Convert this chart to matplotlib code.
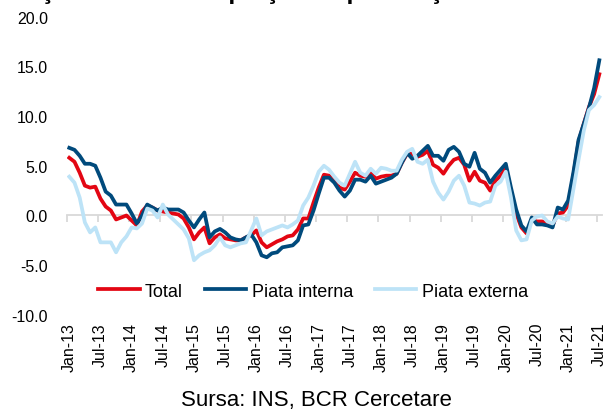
import numpy as np
import matplotlib
matplotlib.use("Agg")
import matplotlib.pyplot as plt
from matplotlib.ticker import FormatStrFormatter

plt.rcParams['font.family'] = ['Liberation Sans', 'DejaVu Sans']

# monthly y/y change, Jan-13 .. Jul-21
tick_labels = ['Jan-13', 'Jul-13', 'Jan-14', 'Jul-14', 'Jan-15', 'Jul-15',
               'Jan-16', 'Jul-16', 'Jan-17', 'Jul-17', 'Jan-18', 'Jul-18',
               'Jan-19', 'Jul-19', 'Jan-20', 'Jul-20', 'Jan-21', 'Jul-21']

total = [5.8, 5.4, 4.3, 3.0, 2.8, 2.9, 1.7, 0.9, 0.5, -0.4, -0.2, 0.0,
         -0.5, -1.0, 0.4, 1.0, 0.8, 0.5, 0.4, 0.3, 0.2, 0.1, -0.3, -1.2,
         -2.4, -1.7, -1.2, -2.8, -2.2, -1.9, -2.3, -2.4, -2.5, -2.5, -2.2, -2.0,
         -1.5, -2.7, -3.2, -2.9, -2.6, -2.4, -2.1, -2.0, -1.4, -0.3, -0.3, 1.3,
         2.8, 4.1, 4.0, 3.5, 2.8, 2.6, 3.4, 4.3, 4.0, 3.9, 4.3, 3.7,
         3.9, 4.0, 4.0, 4.2, 5.3, 6.2, 6.2, 5.9, 6.1, 6.5, 5.1, 4.8,
         4.2, 5.0, 5.6, 5.8, 5.1, 3.5, 4.4, 3.5, 3.3, 2.5, 3.5, 4.0,
         4.8, 2.3, 0.2, -1.2, -1.8, -0.4, -0.6, -0.6, -0.8, -1.0, 0.2, 0.3,
         1.0, 4.0, 7.4, 9.2, 10.9, 12.2, 14.2]

interna = [6.8, 6.6, 6.0, 5.2, 5.2, 5.0, 3.8, 2.4, 2.0, 1.1, 1.1, 1.1,
           0.2, -0.8, 0.0, 1.1, 0.8, 0.5, 0.8, 0.6, 0.6, 0.6, 0.3, -0.5,
           -1.2, -0.4, 0.3, -2.2, -1.6, -1.35, -1.7, -2.2, -2.4, -2.5, -2.2, -1.9,
           -2.7, -4.0, -4.2, -3.8, -3.7, -3.2, -3.1, -3.0, -2.5, -1.0, -0.9, 0.5,
           2.2, 3.8, 3.8, 3.3, 2.5, 1.9, 2.5, 3.6, 3.6, 3.4, 4.0, 3.2,
           3.4, 3.6, 3.8, 4.2, 5.3, 6.3, 5.7, 6.0, 6.5, 7.0, 6.0, 6.0,
           5.5, 6.6, 6.9, 6.4, 5.2, 4.9, 6.3, 4.7, 4.3, 3.3, 4.0, 4.6,
           5.2, 2.8, 0.6, -1.0, -1.6, -0.2, -0.9, -0.9, -1.0, -1.2, 0.8, 0.6,
           1.5, 4.3, 7.6, 9.2, 10.8, 12.8, 15.6]

externa = [3.9, 3.3, 1.8, -0.7, -1.7, -1.2, -2.7, -2.7, -2.7, -3.7, -2.7, -2.1,
           -1.2, -1.3, -0.8, 0.7, 0.5, -0.2, 1.1, 0.1, -0.4, -0.9, -1.4, -2.3,
           -4.5, -4.0, -3.7, -3.5, -3.0, -2.2, -3.0, -3.2, -3.0, -2.8, -2.7, -1.5,
           -0.3, -2.0, -1.6, -1.4, -1.2, -1.0, -1.2, -0.9, -0.5, 1.0, 1.8, 3.0,
           4.4, 5.0, 4.6, 3.9, 3.3, 3.0, 4.2, 5.4, 4.3, 4.0, 4.7, 4.2,
           4.8, 4.7, 4.5, 4.5, 5.6, 6.4, 6.7, 5.4, 5.2, 5.6, 3.4, 2.3,
           1.6, 2.4, 3.5, 4.0, 3.0, 1.3, 1.2, 1.0, 1.3, 1.4, 3.0, 3.4,
           4.4, 1.8, -1.5, -2.5, -2.4, -0.5, -0.1, 0.0, -0.6, -0.8, -0.1, -0.3,
           -0.4, 2.6, 5.6, 8.5, 10.6, 11.1, 11.9]

x = np.arange(len(total))

fig = plt.figure(figsize=(6.03, 4.10), dpi=100)
ax = fig.add_axes([0.1106, 0.2293, 0.8876, 0.728])

ax.plot(x, total, color='#E30613', lw=2.7, label='Total', zorder=3)
ax.plot(x, interna, color='#004A7C', lw=2.7, label='Piata interna', zorder=3)
ax.plot(x, externa, color='#BDE3F7', lw=2.7, label='Piata externa', zorder=3)

ax.set_xlim(-0.5, len(x) - 0.5)
ax.set_ylim(-10, 20)
ax.set_yticks(np.arange(-10, 21, 5))
ax.yaxis.set_major_formatter(FormatStrFormatter('%.1f'))
ax.tick_params(axis='y', length=0, pad=13.5, labelsize=11.5)

for s in ['left', 'right', 'top']:
    ax.spines[s].set_visible(False)
ax.spines['bottom'].set_position(('data', 0))
ax.spines['bottom'].set_color('#D9D9D9')
ax.spines['bottom'].set_linewidth(1.3)
ax.set_xticks(np.arange(-0.5, len(x) - 1, 6))
ax.tick_params(axis='x', length=5, color='#D9D9D9', width=1.3, labelbottom=False)

# month labels sit at the bottom of the plot area
sec = ax.secondary_xaxis('bottom')
sec.set_xticks(x[::6], tick_labels)
sec.tick_params(length=0, pad=5, labelsize=11.5, labelrotation=90)
sec.spines['bottom'].set_visible(False)

ax.legend(loc='center', bbox_to_anchor=(0.46, 0.08), ncol=3, frameon=False,
          fontsize=13, handlelength=2.3, handletextpad=0.3, columnspacing=1.2)

fig.text(0.497, 1.0025, 'Creşterea anuală a preţurilor producţiei industriale',
         ha='center', va='baseline', fontsize=18, fontweight='bold')
fig.text(0.524, 0.024, 'Sursa: INS, BCR Cercetare', ha='center', va='center',
         fontsize=16)

fig.savefig('out.png', dpi=100)
print("Graph created.")
